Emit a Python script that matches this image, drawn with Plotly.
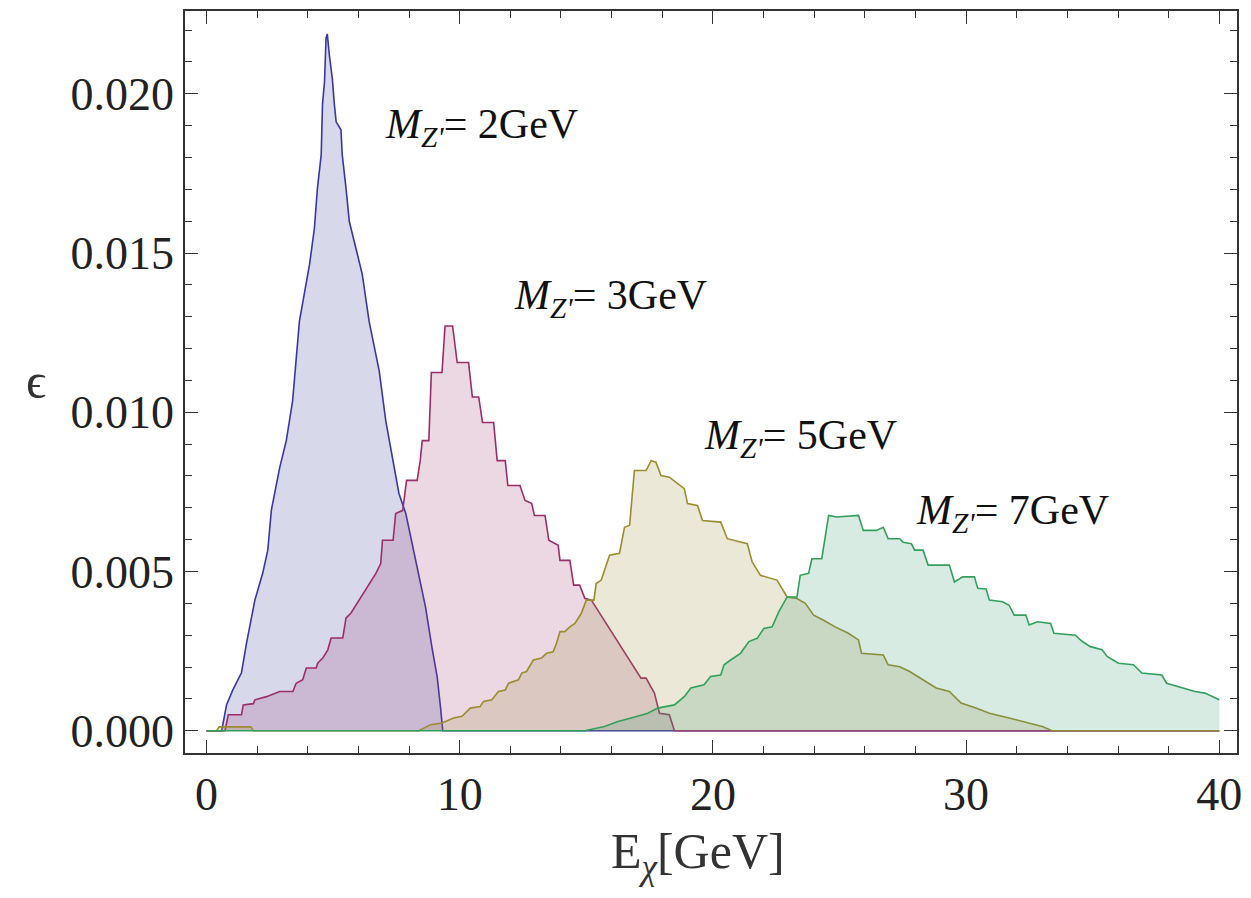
import plotly.graph_objects as go

# ---- data ----
x_2gev = [0, 0.60, 0.79, 1.04, 1.38, 1.58, 1.91, 2.22, 2.42, 2.56, 2.89, 3.15, 3.40, 3.67, 4.07, 4.26,
          4.38, 4.53, 4.58, 4.66, 4.72, 4.77, 4.85, 4.97, 5.05, 5.12, 5.31, 5.36, 5.51, 5.64, 5.90,
          6.15, 6.42, 6.82, 7.08, 7.60, 7.87, 8.26, 8.65, 8.90, 9.11, 9.24, 9.33, 40]
y_2gev = [0, 0, 0.00081, 0.00128, 0.00182, 0.00275, 0.0041, 0.00495, 0.00567, 0.00692, 0.00826,
          0.00911, 0.01036, 0.01286, 0.01465, 0.01577, 0.01703, 0.01809, 0.01966, 0.02038, 0.02175,
          0.02188, 0.02122, 0.02047, 0.01966, 0.01912, 0.01887, 0.01809, 0.01703, 0.01599, 0.01515,
          0.01434, 0.01286, 0.0113, 0.00973, 0.00745, 0.00682, 0.00535, 0.00388, 0.00263, 0.00169,
          0.00075, 0, 0]

x_3gev = [0, 0.73, 0.86, 1.38, 1.45, 1.85, 1.91, 2.37, 2.89, 3.41, 3.54, 3.80, 3.94, 4.33, 4.39, 4.59,
          4.79, 4.92, 5.38, 5.51, 5.70, 6.03, 6.49, 6.69, 6.88, 6.95, 7.37, 7.47, 7.75, 7.90, 8.32,
          8.44, 8.52, 8.78, 8.88, 9.30, 9.42, 9.72, 9.90, 10.35, 10.50, 10.75, 10.90, 11.34, 11.48,
          11.80, 11.90, 12.38, 12.58, 12.84, 12.95, 13.37, 13.52, 13.89, 13.96, 14.35, 14.50, 14.74,
          14.94, 15.20, 17.16, 17.36, 17.69, 17.89, 18.28, 18.48, 40]
y_3gev = [0, 0, 0.0005, 0.0005, 0.00081, 0.00085, 0.00097, 0.00107, 0.00123, 0.00123, 0.00149,
          0.0016, 0.00197, 0.00197, 0.00212, 0.00228, 0.00254, 0.00291, 0.00291, 0.00354, 0.00369,
          0.0041, 0.00467, 0.00494, 0.00525, 0.00598, 0.00598, 0.00682, 0.00692, 0.00786, 0.00786,
          0.00848, 0.00911, 0.00911, 0.01125, 0.01125, 0.01271, 0.01271, 0.01156, 0.01156, 0.01048,
          0.01048, 0.00968, 0.00968, 0.00848, 0.00848, 0.0077, 0.0077, 0.00723, 0.00714, 0.00676,
          0.00676, 0.00598, 0.00582, 0.00535, 0.00535, 0.00457, 0.00457, 0.00416, 0.0041, 0.00165,
          0.00165, 0.00118, 0.00055, 0.0005, 0, 0]

x_5gev = [0, 0.40, 0.50, 1.75, 1.85, 8.39, 8.85, 9.30, 9.76, 10.09, 10.42, 10.81, 10.94, 11.27, 11.53,
          11.80, 11.93, 12.32, 12.45, 12.64, 12.91, 13.23, 13.43, 13.69, 13.82, 13.96, 14.15, 14.35,
          14.55, 14.80, 15.00, 15.30, 15.39, 15.59, 15.92, 16.31, 16.51, 16.71, 16.90, 17.36, 17.56,
          17.75, 17.95, 18.28, 18.87, 19.00, 19.39, 19.59, 20.31, 20.57, 21.36, 21.55, 21.88, 22.53,
          22.93, 23.32, 23.65, 23.98, 24.37, 24.83, 25.35, 25.75, 25.87, 26.73, 26.92, 27.38, 27.77,
          28.30, 28.82, 29.34, 29.80, 30.39, 30.92, 31.70, 32.49, 33.01, 33.40, 40]
y_5gev = [0, 0, 0.00012, 0.00012, 0, 0, 0.00019, 0.00024, 0.0004, 0.00045, 0.00071, 0.00076, 0.00092,
          0.00097, 0.00123, 0.00128, 0.00149, 0.0016, 0.00181, 0.00186, 0.00222, 0.00228, 0.00243,
          0.00248, 0.00274, 0.00311, 0.00311, 0.00326, 0.00337, 0.00368, 0.0041, 0.0041, 0.00462,
          0.00473, 0.00551, 0.00557, 0.00639, 0.00645, 0.00817, 0.00817, 0.00848, 0.00843, 0.00801,
          0.00796, 0.0076, 0.00713, 0.00707, 0.0066, 0.00655, 0.00603, 0.00587, 0.0053, 0.00488,
          0.00473, 0.0042, 0.00415, 0.004, 0.00363, 0.00347, 0.00326, 0.00306, 0.00285, 0.00243,
          0.00238, 0.00207, 0.00201, 0.00186, 0.0016, 0.00134, 0.00123, 0.00087, 0.00071, 0.00055,
          0.0004, 0.00024, 0.00013, 0, 0]

x_7gev = [0, 14.94, 15.72, 16.25, 16.77, 17.43, 17.82, 18.48, 18.87, 19.13, 19.65, 19.91, 20.31, 20.44,
          20.70, 21.09, 21.42, 21.75, 22.01, 22.34, 22.60, 22.93, 23.32, 23.45, 23.78, 23.91, 24.30,
          24.45, 24.57, 24.89, 25.55, 25.75, 25.94, 26.46, 26.73, 26.92, 27.38, 27.51, 27.84, 27.97,
          28.30, 28.50, 29.34, 29.54, 29.87, 30.33, 30.46, 30.79, 30.92, 31.44, 31.70, 31.90, 32.36,
          32.49, 32.82, 33.34, 33.47, 34.32, 34.59, 34.91, 35.37, 35.57, 36.02, 36.61, 36.94, 37.73,
          37.92, 38.38, 39.04, 39.43, 40.0]
y_7gev = [0, 0, 0.00013, 0.00029, 0.0004, 0.00055, 0.00071, 0.00081, 0.00107, 0.00134, 0.00144,
          0.0017, 0.00175, 0.00207, 0.00222, 0.00243, 0.0028, 0.0029, 0.00321, 0.00326, 0.00373,
          0.0042, 0.0042, 0.00488, 0.00494, 0.0054, 0.0054, 0.0062, 0.00676, 0.00671, 0.00676,
          0.00676, 0.00629, 0.00629, 0.00639, 0.00603, 0.00603, 0.00592, 0.00587, 0.00567, 0.00567,
          0.0052, 0.0052, 0.00467, 0.00483, 0.00483, 0.00447, 0.00445, 0.0041, 0.00405, 0.00394,
          0.00363, 0.00363, 0.00332, 0.00342, 0.00337, 0.00306, 0.003, 0.0028, 0.00264, 0.00254,
          0.00233, 0.00212, 0.00207, 0.00181, 0.00175, 0.00149, 0.00139, 0.00123, 0.00118, 0.00097]

label_mass = ["2GeV", "3GeV", "5GeV", "7GeV"]
label_x = [10.86, 15.97, 23.44, 31.85]
label_y = [0.01897, 0.01358, 0.0092, 0.00685]
x_ticks = [0, 10, 20, 30, 40]
y_ticks = [0.0, 0.005, 0.010, 0.015, 0.020]

series = [
    (x_2gev, y_2gev, "rgb(55,55,165)", "rgba(61,61,153,0.2)"),
    (x_3gev, y_3gev, "rgb(155,45,105)", "rgba(153,61,113,0.2)"),
    (x_5gev, y_5gev, "rgb(155,140,45)", "rgba(153,139,61,0.2)"),
    (x_7gev, y_7gev, "rgb(50,160,90)", "rgba(61,153,113,0.2)"),
]

FONT = "Liberation Serif"

fig = go.Figure()
for xs, ys, lc, fc in series:
    fig.add_trace(go.Scatter(x=xs, y=ys, mode="lines", line=dict(color=lc, width=1.6),
                             fill="tozeroy", fillcolor=fc, showlegend=False, hoverinfo="skip"))

for m, lx, ly in zip(label_mass, label_x, label_y):
    html = "<i>M</i><sub><i>Z'</i></sub>= " + m
    fig.add_annotation(x=lx, y=ly, xref="x", yref="y", text=html, showarrow=False,
                       xanchor="center", yanchor="middle",
                       font=dict(family=FONT, size=42, color="#111"))

fig.add_annotation(x=0.488, y=-0.137, xref="paper", yref="paper",
                   xanchor="center", yanchor="middle",
                   text="E<sub><i>χ</i></sub>[GeV]", showarrow=False,
                   font=dict(family=FONT, size=50, color="#333"))
fig.add_annotation(x=-0.142, y=0.501, xref="paper", yref="paper",
                   xanchor="center", yanchor="middle",
                   text="ϵ", showarrow=False,
                   font=dict(family=FONT, size=50, color="#333"))

axis_common = dict(showline=True, mirror="allticks", linecolor="#333", linewidth=1.5,
                   ticks="inside", ticklen=13, tickwidth=1.2, tickcolor="#333",
                   showgrid=False, zeroline=False,
                   tickfont=dict(family=FONT, size=46, color="#222"))

fig.update_xaxes(range=[-0.85, 40.7], tickvals=x_ticks, ticktext=[str(v) for v in x_ticks],
                 minor=dict(dtick=2, tick0=0, ticklen=7, ticks="inside", tickcolor="#333", tickwidth=1),
                 ticklabelstandoff=0, **axis_common)
fig.update_yaxes(range=[-0.0007, 0.0226], tickvals=y_ticks, ticktext=[f"{v:.3f}" for v in y_ticks],
                 minor=dict(dtick=0.001, tick0=0, ticklen=7, ticks="inside", tickcolor="#333", tickwidth=1),
                 ticklabelstandoff=0, **axis_common)

fig.update_layout(width=1251, height=898, margin=dict(l=185, r=11, t=9, b=145),
                  plot_bgcolor="white", paper_bgcolor="white")

fig.write_html("out.html")
